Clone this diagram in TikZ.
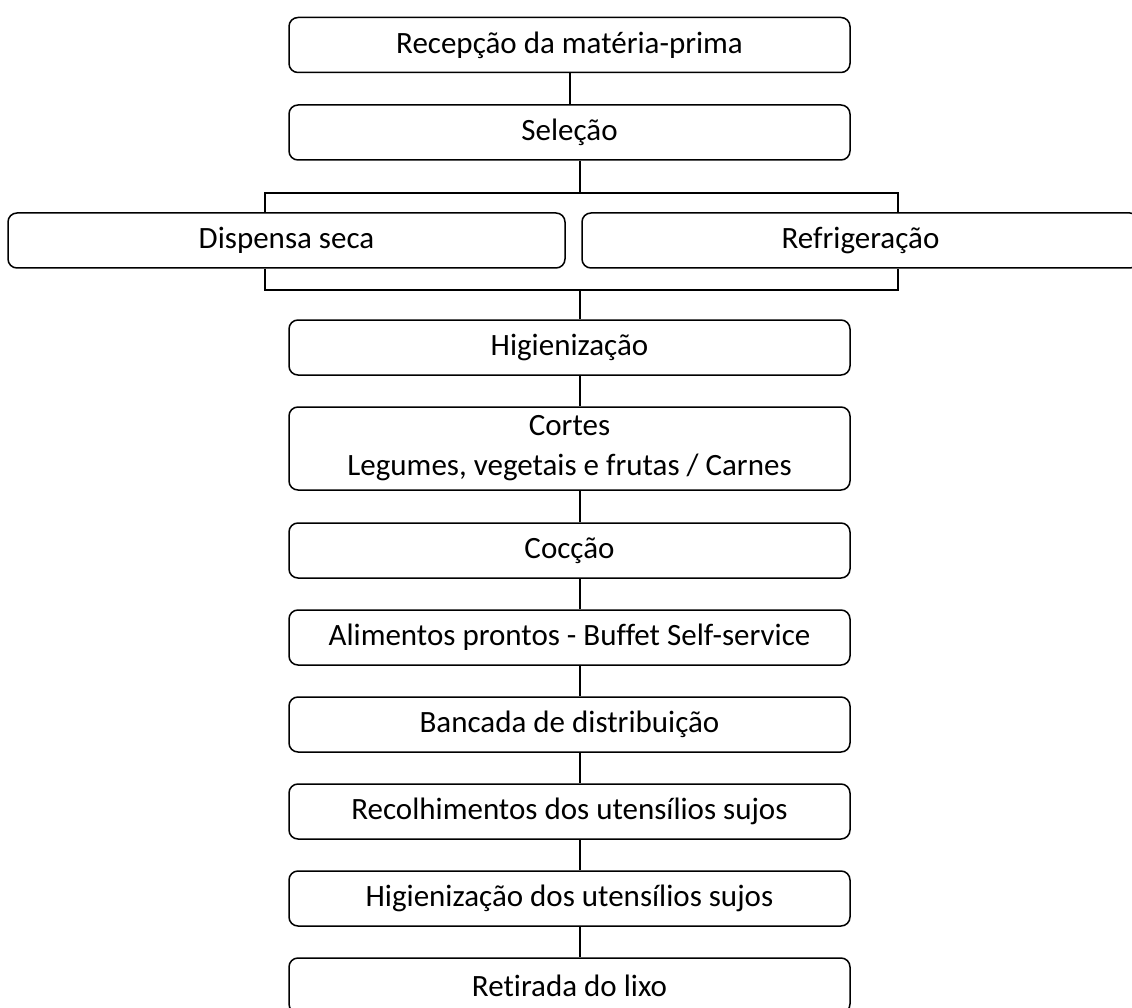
\documentclass[tikz,border=0pt]{standalone}
\usepackage{fontspec}
\setmainfont{Carlito}[Ligatures={NoCommon}]
\begin{document}
\begin{tikzpicture}[x=1pt,y=-1pt,
  box/.style={draw=black, line width=1.5pt, rounded corners=9pt, minimum width=561pt, minimum height=55pt, inner sep=0pt, align=center, font=\fontsize{31}{40}\selectfont},
  side/.style={box, minimum width=557pt},
  conn/.style={line width=1.5pt}]
\useasboundingbox (0,0) rectangle (1132,1008);
\clip (0,0) rectangle (1132,1008);
\node[box] (rec) at (569.5,45) {Recepção da matéria-prima};
\node[box] (sel) at (569.5,132.5) {Seleção};
\node[side] (disp) at (286.5,240.5) {Dispensa seca};
\node[side] (refr) at (860.5,240.5) {Refrigeração};
\node[box] (hig) at (569.5,347.5) {Higienização};
\node[box, minimum height=83pt] (cor) at (569.5,448.5) {Cortes\\Legumes, vegetais e frutas / Carnes};
\node[box] (coc) at (569.5,550.5) {Cocção};
\node[box] (ali) at (569.5,637.5) {Alimentos prontos - Buffet Self-service};
\node[box] (ban) at (569.5,724.5) {Bancada de distribuição};
\node[box] (reco) at (569.5,811.5) {Recolhimentos dos utensílios sujos};
\node[box] (higu) at (569.5,898.5) {Higienização dos utensílios sujos};
\node[box] (lixo) at (569.5,985.5) {Retirada do lixo};
\coordinate (bt) at (580,193);
\coordinate (btl) at (265,193);
\coordinate (btr) at (898,193);
\coordinate (bb) at (580,290);
\coordinate (bbl) at (265,290);
\coordinate (bbr) at (898,290);
\draw[conn] ([xshift=0.5pt]rec.south) -- ([xshift=0.5pt]sel.north);
\draw[conn] (sel.south -| bt) -- (bt);
\draw[conn] (btl |- disp.north) -- (btl) -- (btr) -- (btr |- refr.north);
\draw[conn] (bbl |- disp.south) -- (bbl) -- (bbr) -- (bbr |- refr.south);
\draw[conn] (bb) -- (bb |- hig.north);
\draw[conn] (hig.south -| bb) -- (cor.north -| bb);
\draw[conn] (cor.south -| bb) -- (coc.north -| bb);
\draw[conn] (coc.south -| bb) -- (ali.north -| bb);
\draw[conn] (ali.south -| bb) -- (ban.north -| bb);
\draw[conn] (ban.south -| bb) -- (reco.north -| bb);
\draw[conn] (reco.south -| bb) -- (higu.north -| bb);
\draw[conn] (higu.south -| bb) -- (lixo.north -| bb);
\end{tikzpicture}
\end{document}
